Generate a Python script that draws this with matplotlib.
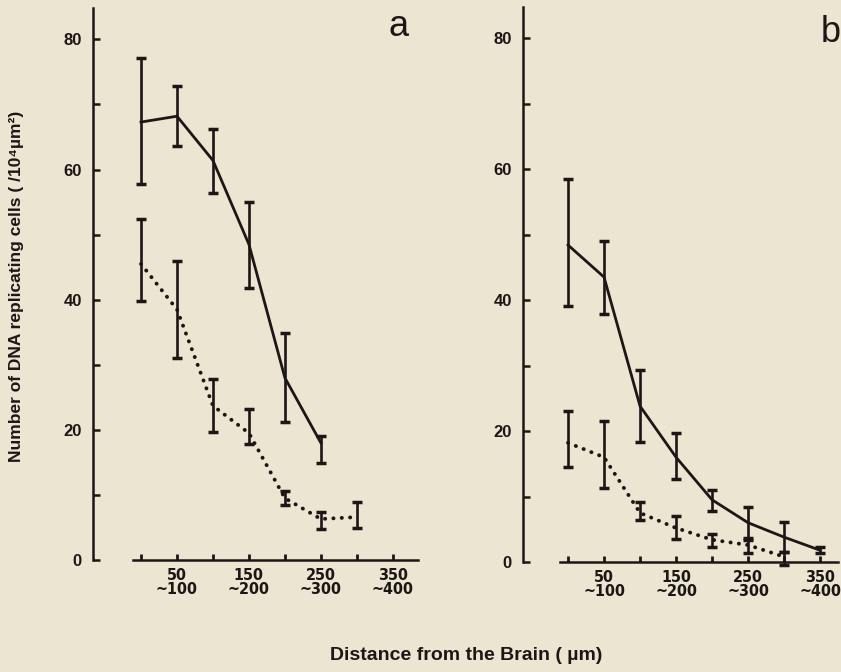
import matplotlib
matplotlib.use("Agg")
import matplotlib.pyplot as plt
from matplotlib import font_manager as fm

# distance bins (µm), tick every 50
bins = [0, 50, 100, 150, 200, 250, 300, 350]
bin_labels = ["", "50\n~100", "", "150\n~200", "", "250\n~300", "", "350\n~400"]

# panel a
a_solid_x = [0, 50, 100, 150, 200, 250]
a_solid_mean = [67.3, 68.2, 61.4, 48.5, 28.0, 18.0]
a_solid_hi = [77.1, 72.8, 66.2, 55.0, 34.9, 19.0]
a_solid_lo = [57.8, 63.6, 56.4, 41.8, 21.2, 14.9]
a_dot_x = [0, 50, 100, 150, 200, 250, 300]
a_dot_mean = [45.5, 38.5, 23.7, 19.5, 9.5, 6.3, 6.6]
a_dot_hi = [52.4, 45.9, 27.8, 23.2, 10.6, 7.4, 8.9]
a_dot_lo = [39.8, 31.0, 19.7, 17.8, 8.4, 4.8, 4.9]

# panel b
b_solid_x = [0, 50, 100, 150, 200, 250, 300, 350]
b_solid_mean = [48.4, 43.5, 23.8, 16.0, 9.5, 6.0, 3.8, 1.8]
b_solid_hi = [58.5, 49.0, 29.3, 19.7, 11.0, 8.4, 6.1, 2.3]
b_solid_lo = [39.1, 37.8, 18.3, 12.7, 7.8, 3.6, 1.5, 1.4]
b_dot_x = [0, 50, 100, 150, 200, 250, 300]
b_dot_mean = [18.2, 16.0, 7.5, 5.2, 3.4, 2.6, 0.8]
b_dot_hi = [23.1, 21.5, 9.2, 7.0, 4.3, 3.3, 1.6]
b_dot_lo = [14.5, 11.3, 6.4, 3.5, 2.3, 1.4, -0.4]

ink = "#1c1716"
bg = "#ebe5d1"
sans = ["Liberation Sans", "DejaVu Sans"]

# look for a condensed face for the distance labels
cond = [f for f in fm.fontManager.ttflist
        if ("Narrow" in f.name or "ondensed" in f.fname) and "Oblique" not in f.fname
        and "Italic" not in f.fname]
cond.sort(key=lambda f: ("Bold" not in f.fname, f.fname))
if cond:
    tick_font = fm.FontProperties(fname=cond[0].fname, size=11.5)
else:
    tick_font = fm.FontProperties(family=sans, size=10)

fig = plt.figure(figsize=(8.41, 6.72), dpi=100, facecolor=bg)
ax_a = fig.add_axes([92.8 / 841, 0.1376, 336 / 841, 0.857])
ax_b = fig.add_axes([523 / 841, 0.1344, 318 / 841, 0.8626])


def draw_panel(ax, xlim, xs, mean, hi, lo, dxs, dmean, dhi, dlo, xbounds):
    ax.set_facecolor("none")
    ax.set_xlim(*xlim)
    ax.set_ylim(-3, 85.5)
    err = [[m - l for m, l in zip(mean, lo)], [h - m for m, h in zip(mean, hi)]]
    ax.errorbar(xs, mean, yerr=err, fmt="-", color=ink, lw=2.0, elinewidth=1.9,
                capsize=3.6, capthick=2.5, clip_on=False)
    derr = [[m - l for m, l in zip(dmean, dlo)], [h - m for m, h in zip(dmean, dhi)]]
    ax.errorbar(dxs, dmean, yerr=derr, fmt="none", ecolor=ink, elinewidth=1.9,
                capsize=3.6, capthick=2.5, clip_on=False)
    ax.plot(dxs, dmean, color=ink, lw=2.8, linestyle=(0, (0.05, 2.1)),
            dash_capstyle="round", clip_on=False)

    for s in ["top", "right"]:
        ax.spines[s].set_visible(False)
    ax.spines["left"].set_bounds(0, 84.8)
    ax.spines["bottom"].set_position(("data", 0))
    ax.spines["bottom"].set_bounds(*xbounds)
    for s in ["left", "bottom"]:
        ax.spines[s].set_linewidth(1.8)
        ax.spines[s].set_color(ink)

    ax.set_yticks([0, 20, 40, 60, 80])
    ax.set_yticks([10, 30, 50, 70], minor=True)
    ax.tick_params(axis="y", which="both", direction="in", length=5, width=1.8,
                   color=ink, labelsize=12, labelcolor=ink, pad=8)
    ax.set_xticks(bins, bin_labels)
    ax.tick_params(axis="x", direction="in", length=4, width=2, color=ink,
                   labelcolor=ink, pad=6)
    for t in ax.get_xticklabels():
        t.set_fontproperties(tick_font)
        t.set_linespacing(0.9)
    for t in ax.get_yticklabels():
        t.set_family(sans)
        t.set_fontweight("bold")


draw_panel(ax_a, (-67, 400), a_solid_x, a_solid_mean, a_solid_hi, a_solid_lo,
           a_dot_x, a_dot_mean, a_dot_hi, a_dot_lo, (-11, 385))
draw_panel(ax_b, (-62.5, 379), b_solid_x, b_solid_mean, b_solid_hi, b_solid_lo,
           b_dot_x, b_dot_mean, b_dot_hi, b_dot_lo, (-11, 375))

fig.text(399 / 841, 1 - 26 / 672, "a", fontsize=26, family=sans,
         color=ink, ha="center", va="center")
fig.text(831 / 841, 1 - 33 / 672, "b", fontsize=26, family=sans,
         color=ink, ha="center", va="center")
fig.text(17 / 841, 1 - 286 / 672, "Number of DNA replicating cells ( /10\u2074\u00b5m\u00b2)",
         rotation=90, fontsize=12.5, fontweight="bold", family=sans, color=ink,
         ha="center", va="center")
fig.text(466 / 841, 1 - 656 / 672, "Distance from the Brain ( \u00b5m)",
         fontsize=14, fontweight="bold", family=sans, color=ink, ha="center", va="center")

fig.savefig("out.png", dpi=100, facecolor=bg)
